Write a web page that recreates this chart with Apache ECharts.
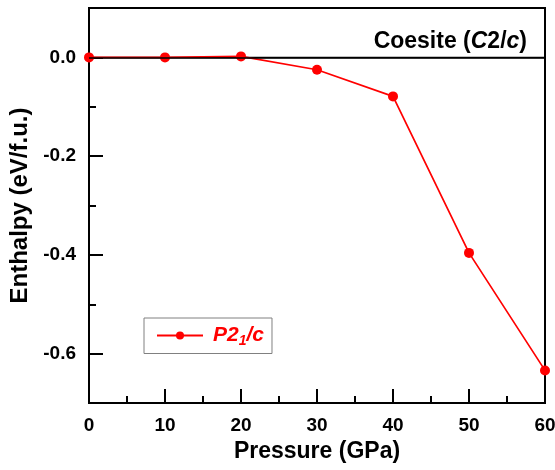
<!DOCTYPE html>
<html><head><meta charset="utf-8">
<script src="https://cdn.jsdelivr.net/npm/echarts@6/dist/echarts.min.js"></script>
<style>html,body{margin:0;padding:0;background:#fff}#c{width:555px;height:470px}</style>
</head><body><div id="c"></div>
<script>
const pressure = [0, 10, 20, 30, 40, 50, 60];
const enthalpy = [0, 0, 0.002, -0.025, -0.079, -0.396, -0.634];
const yMajor = [-0.6, -0.4, -0.2, 0];
const yMinor = [-0.5, -0.3, -0.1];
const refName = 'Coesite';
const seriesName = 'P21/c';

const F = 'Liberation Sans, Arial, sans-serif';
const chart = echarts.init(document.getElementById('c'));
chart.setOption({
  animation: false,
  grid: { left: 89, right: 10, top: 8, bottom: 67, outerBoundsMode: 'none', containLabel: false,
    show: true, borderColor: '#000', borderWidth: 2, backgroundColor: 'transparent' },
  xAxis: {
    type: 'value', min: 0, max: 60, interval: 10,
    name: 'Pressure (GPa)', nameLocation: 'middle', nameGap: 34,
    nameTextStyle: { fontFamily: F, fontWeight: 'bold', fontSize: 23, color: '#000' },
    axisLine: { onZero: false, lineStyle: { color: '#000', width: 2 } },
    axisTick: { inside: true, length: 14, lineStyle: { color: '#000', width: 2 } },
    minorTick: { show: true, splitNumber: 2, length: 7, lineStyle: { color: '#000', width: 2 } },
    axisLabel: { fontFamily: F, fontWeight: 'bold', fontSize: 19, color: '#000', margin: 13 },
    splitLine: { show: false }
  },
  yAxis: [{
    type: 'value', min: -0.7, max: 0.1,
    name: 'Enthalpy (eV/f.u.)', nameLocation: 'middle', nameGap: 50,
    nameTextStyle: { fontFamily: F, fontWeight: 'bold', fontSize: 24, color: '#000' },
    axisLine: { onZero: false, lineStyle: { color: '#000', width: 2 } },
    axisTick: { inside: true, length: 14, customValues: yMajor, lineStyle: { color: '#000', width: 2 } },
    axisLabel: { customValues: yMajor, fontFamily: F, fontWeight: 'bold', fontSize: 19, color: '#000', margin: 13,
      formatter: v => (Math.abs(v) < 1e-9 ? 0 : v).toFixed(1) },
    splitLine: { show: false }
  }, {
    type: 'value', min: -0.7, max: 0.1, position: 'left',
    axisLine: { show: false },
    axisTick: { inside: true, length: 7, customValues: yMinor, lineStyle: { color: '#000', width: 2 } },
    axisLabel: { show: false },
    splitLine: { show: false }
  }],
  legend: {
    left: 144, top: 318,
    padding: [7, 8, 5, 12],
    borderColor: '#808080', borderWidth: 1,
    itemWidth: 46, itemHeight: 10, itemGap: 10,
    data: [seriesName],
    formatter: () => '{p|P2}{s|1}{i|/c}',
    textStyle: {
      color: '#f00',
      rich: {
        p: { fontFamily: F, fontWeight: 'bold', fontStyle: 'italic', fontSize: 21, color: '#f00', padding: [0, 0, 0, 5] },
        i: { fontFamily: F, fontWeight: 'bold', fontStyle: 'italic', fontSize: 21, color: '#f00' },
        s: { fontFamily: F, fontWeight: 'bold', fontStyle: 'italic', fontSize: 14, color: '#f00', padding: [12, 0, 0, 0] }
      }
    }
  },
  series: [{
    name: refName, type: 'line', z: 1,
    data: [[0, 0], [60, 0]],
    showSymbol: false, symbol: 'none',
    lineStyle: { color: '#000', width: 1.5 },
    silent: true,
    markLine: {
      silent: true, symbol: 'none',
      lineStyle: { color: '#000', width: 1.5, type: 'solid' },
      data: [{ yAxis: 0 }],
      label: {
        position: 'insideEndTop', distance: [18, 4],
        formatter: () => '{n|Coesite (}{i|C}{n|2/}{i|c}{n|)}',
        rich: {
          n: { fontFamily: F, fontWeight: 'bold', fontSize: 23, color: '#000' },
          i: { fontFamily: F, fontWeight: 'bold', fontStyle: 'italic', fontSize: 23, color: '#000' }
        }
      }
    }
  }, {
    name: seriesName, type: 'line', z: 3,
    data: pressure.map((p, i) => [p, enthalpy[i]]),
    symbol: 'circle', symbolSize: 10,
    itemStyle: { color: '#f00' },
    lineStyle: { color: '#f00', width: 1.7 },
    clip: false
  }]
});
</script></body></html>
